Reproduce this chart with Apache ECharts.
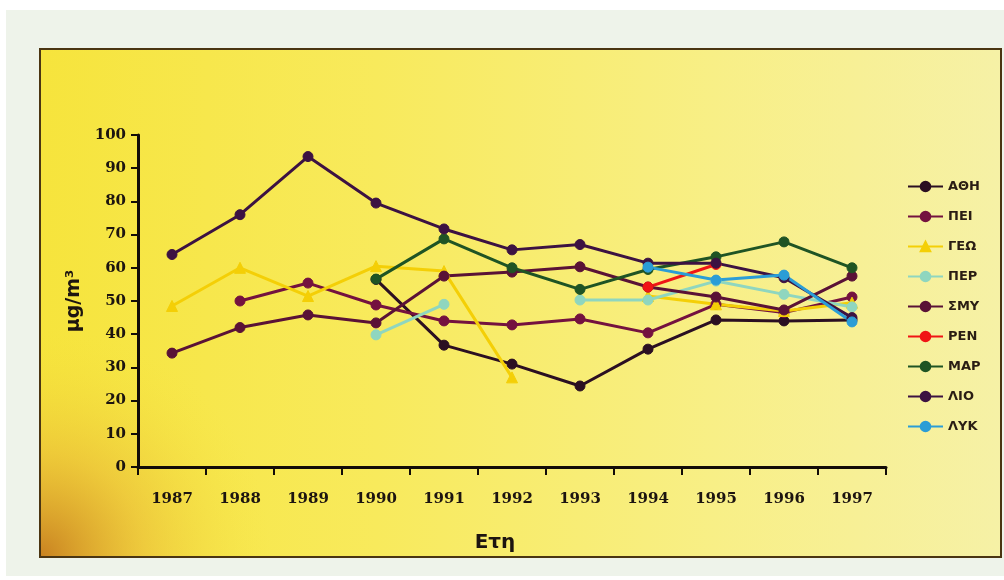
<!DOCTYPE html>
<html>
<head>
<meta charset="utf-8">
<script src="https://cdn.jsdelivr.net/npm/echarts@6/dist/echarts.min.js"></script>
<style>
  html, body { margin: 0; padding: 0; background: #ffffff; }
  #chart { width: 1004px; height: 580px; }
</style>
</head>
<body>
<div id="chart"></div>
<script>
// Annual mean concentrations per station (μg/m³), 1987–1997
const years = ['1987', '1988', '1989', '1990', '1991', '1992', '1993', '1994', '1995', '1996', '1997'];
const yTicks = [0, 100, 10]; // min, max, step

const ath = [null, null, null, 56.5, 36.7, 31.0, 24.4, 35.5, 44.3, 44.0, 44.3];
const pei = [null, 50.0, 55.4, 48.8, 44.0, 42.8, 44.6, 40.4, 49.0, 46.5, 51.2];
const geo = [48.5, 60.0, 51.5, 60.5, 59.0, 27.0, null, 51.5, 49.0, 47.0, 49.5];
const per = [null, null, null, 39.8, 49.0, null, 50.3, 50.3, 56.0, 52.0, 48.2];
const smy = [34.3, 42.0, 45.8, 43.4, 57.5, 58.7, 60.3, 54.2, 51.2, 47.3, 57.5];
const ren = [null, null, null, null, null, null, null, 54.2, 61.0, null, null];
const mar = [null, null, null, 56.6, 68.7, 60.0, 53.5, 59.5, 63.3, 67.8, 60.0];
const lio = [64.0, 76.0, 93.5, 79.5, 71.7, 65.4, 67.0, 61.4, 61.4, 57.0, 45.0];
const lyk = [null, null, null, null, null, null, null, 60.2, 56.3, 57.8, 43.7];

const stations = [
  { name: 'ΑΘΗ', data: ath, color: '#2b0f22', symbol: 'circle' },
  { name: 'ΠΕΙ', data: pei, color: '#74123f', symbol: 'circle' },
  { name: 'ΓΕΩ', data: geo, color: '#f4cf06', symbol: 'triangle' },
  { name: 'ΠΕΡ', data: per, color: '#8fd6bf', symbol: 'circle' },
  { name: 'ΣΜΥ', data: smy, color: '#5a1236', symbol: 'circle' },
  { name: 'ΡΕΝ', data: ren, color: '#f01515', symbol: 'circle' },
  { name: 'ΜΑΡ', data: mar, color: '#1f5424', symbol: 'circle' },
  { name: 'ΛΙΟ', data: lio, color: '#3c1242', symbol: 'circle' },
  { name: 'ΛΥΚ', data: lyk, color: '#2b9dd6', symbol: 'circle' }
];

const chart = echarts.init(document.getElementById('chart'), null, { renderer: 'canvas' });

const serifBold = { fontFamily: 'DejaVu Serif', fontWeight: 'bold', fontSize: 15, color: '#1c1410' };

const option = {
  animation: false,
  backgroundColor: '#ffffff',
  graphic: [
    {
      type: 'rect', z: -20, silent: true,
      shape: { x: 6, y: 10, width: 998, height: 566 },
      style: { fill: '#eef3ea' }
    },
    {
      type: 'rect', z: -19, silent: true,
      shape: { x: 40, y: 49, width: 961, height: 508 },
      style: {
        fill: new echarts.graphic.LinearGradient(0, 0, 1, 0, [
          { offset: 0, color: '#f6e43c' },
          { offset: 0.35, color: '#f8ea5c' },
          { offset: 0.7, color: '#f8ef86' },
          { offset: 1, color: '#f6f1a6' }
        ]),
        stroke: '#4a3512', lineWidth: 2
      }
    },
    {
      type: 'rect', z: -18, silent: true,
      shape: { x: 41, y: 300, width: 360, height: 256 },
      style: {
        fill: new echarts.graphic.RadialGradient(0, 1, 0.9, [
          { offset: 0, color: 'rgba(196,120,30,0.9)' },
          { offset: 0.45, color: 'rgba(228,170,50,0.45)' },
          { offset: 1, color: 'rgba(246,228,60,0)' }
        ])
      }
    }
  ],
  grid: { left: 138, right: 118, top: 135, bottom: 113, containLabel: false },
  legend: {
    orient: 'vertical',
    left: 902,
    top: 175,
    itemWidth: 35,
    itemHeight: 12,
    itemGap: 17,
    textStyle: { fontFamily: 'DejaVu Sans', fontWeight: 'bold', fontSize: 13, color: '#2a1d14' },
    data: stations.map(s => s.name)
  },
  xAxis: {
    type: 'category',
    data: years,
    boundaryGap: true,
    name: 'Ετη',
    nameLocation: 'middle',
    nameGap: 66,
    nameTextStyle: {
      fontFamily: 'DejaVu Sans', fontWeight: 'bold', fontSize: 20, color: '#1c1410',
      padding: [0, 34, 0, 0]
    },
    axisLine: { lineStyle: { color: '#120c08', width: 3 } },
    axisTick: { show: true, length: 8, lineStyle: { color: '#120c08', width: 2 } },
    axisLabel: Object.assign({ margin: 25 }, serifBold),
    splitLine: { show: false }
  },
  yAxis: {
    type: 'value',
    min: yTicks[0],
    max: yTicks[1],
    interval: yTicks[2],
    name: 'μg/m³',
    nameLocation: 'middle',
    nameGap: 46,
    nameRotate: 90,
    nameTextStyle: { fontFamily: 'DejaVu Sans', fontWeight: 'bold', fontSize: 19, color: '#1c1410' },
    axisLine: { show: true, lineStyle: { color: '#120c08', width: 3 } },
    axisTick: { show: true, length: 7, lineStyle: { color: '#120c08', width: 2 } },
    axisLabel: Object.assign({ margin: 12 }, serifBold),
    splitLine: { show: false }
  },
  series: stations.map(s => ({
    name: s.name,
    type: 'line',
    data: s.data,
    connectNulls: false,
    symbol: s.symbol,
    symbolSize: s.symbol === 'triangle' ? 11 : 10,
    showSymbol: true,
    lineStyle: { color: s.color, width: 3 },
    itemStyle: { color: s.color, borderColor: s.color, borderWidth: 1 }
  }))
};

chart.setOption(option);
</script>
</body>
</html>
